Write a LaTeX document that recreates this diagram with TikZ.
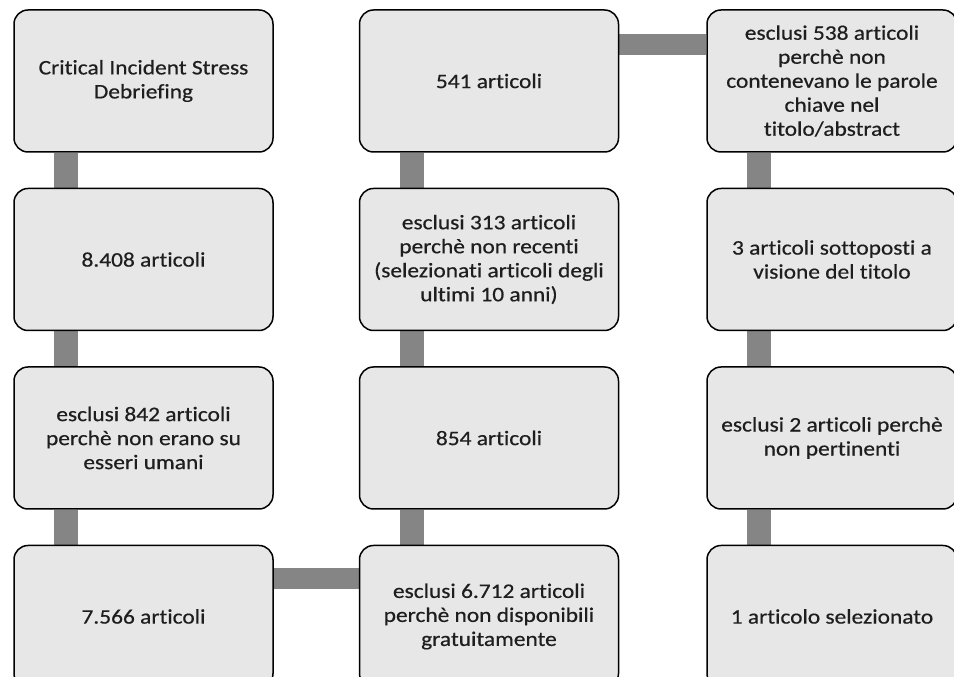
\documentclass[tikz,border=0pt]{standalone}
\usepackage{fontspec}
\setmainfont{Carlito}[FakeStretch=1.13,FakeBold=0.5,Ligatures=NoCommon]
\usetikzlibrary{positioning,backgrounds}
\definecolor{boxfill}{RGB}{231,231,231}
\definecolor{barcol}{RGB}{133,133,133}
\definecolor{txtcol}{RGB}{30,30,30}

\begin{document}
\begin{tikzpicture}[
      box/.style={draw=black,line width=1.5pt,rounded corners=14pt,fill=boxfill,
                  minimum width=259pt,minimum height=142pt,align=center,
                  text=txtcol,font=\fontsize{20.7}{24}\selectfont},
      boxr/.style={box,minimum width=250pt},
      vbar/.style={barcol,line width=24pt},
      hbar/.style={barcol,line width=21pt}
    ]
    \useasboundingbox (0,0) rectangle (954pt,677pt);

    % first column, top to bottom
    \node[box] (cis) at (143.5pt,596pt) {Critical Incident Stress\\Debriefing};
    \node[box,below=35pt of cis]      (art8408)  {8.408 articoli};
    \node[box,below=35pt of art8408]  (escl842)  {esclusi 842 articoli\\perchè non erano su\\esseri umani};
    \node[box,below=35pt of escl842]  (art7566)  {7.566 articoli};

    % second column, bottom to top
    \node[box,right=85pt of art7566]  (escl6712) {esclusi 6.712 articoli\\perchè non disponibili\\gratuitamente};
    \node[box,above=35pt of escl6712] (art854)   {854 articoli};
    \node[box,above=35pt of art854]   (escl313)  {esclusi 313 articoli\\perchè non recenti\\(selezionati articoli degli\\ultimi 10 anni)};
    \node[box,above=35pt of escl313]  (art541)   {541 articoli};

    % third column, top to bottom
    \node[boxr,right=87pt of art541]  (escl538)  {esclusi 538 articoli\\perchè non\\contenevano le parole\\chiave nel\\titolo/abstract};
    \node[boxr,below=35pt of escl538] (art3)     {3 articoli sottoposti a\\visione del titolo};
    \node[boxr,below=35pt of art3]    (escl2)    {esclusi 2 articoli perchè\\non pertinenti};
    \node[boxr,below=35pt of escl2]   (art1)     {1 articolo selezionato};

    \begin{scope}[on background layer]
      \draw[vbar] ([xshift=53pt]cis.south west)      -- ([xshift=53pt]art8408.north west);
      \draw[vbar] ([xshift=53pt]art8408.south west)  -- ([xshift=53pt]escl842.north west);
      \draw[vbar] ([xshift=53pt]escl842.south west)  -- ([xshift=53pt]art7566.north west);
      \draw[hbar] ([yshift=-34pt]art7566.north east) -- ([yshift=-34pt]escl6712.north west);
      \draw[vbar] ([xshift=53pt]escl6712.north west) -- ([xshift=53pt]art854.south west);
      \draw[vbar] ([xshift=53pt]art854.north west)   -- ([xshift=53pt]escl313.south west);
      \draw[vbar] ([xshift=53pt]escl313.north west)  -- ([xshift=53pt]art541.south west);
      \draw[hbar] ([yshift=-35pt]art541.north east)  -- ([yshift=-35pt]escl538.north west);
      \draw[vbar] ([xshift=53pt]escl538.south west)  -- ([xshift=53pt]art3.north west);
      \draw[vbar] ([xshift=53pt]art3.south west)     -- ([xshift=53pt]escl2.north west);
      \draw[vbar] ([xshift=53pt]escl2.south west)    -- ([xshift=53pt]art1.north west);
    \end{scope}
  \end{tikzpicture}
\end{document}
